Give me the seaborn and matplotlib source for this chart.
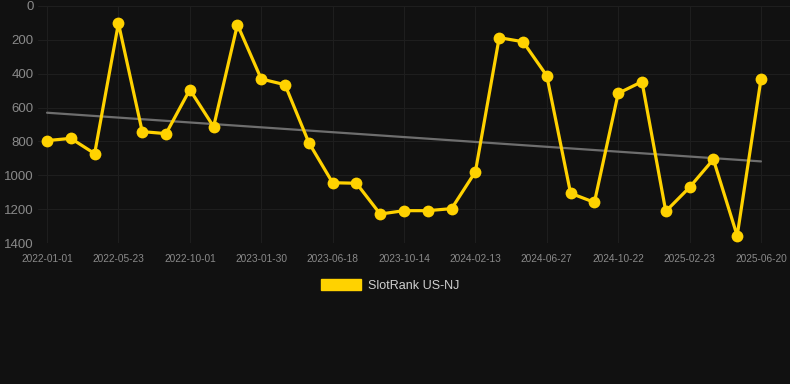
import numpy as np
import pandas as pd
import matplotlib
matplotlib.use("Agg")
import matplotlib.pyplot as plt
from matplotlib.patches import Patch
import seaborn as sns

# data (rank, lower is better)
dates = [
    "2022-01-01", "2022-02-17", "2022-04-05", "2022-05-23", "2022-07-05", "2022-08-18",
    "2022-10-01", "2022-11-10", "2022-12-20", "2023-01-30", "2023-03-16", "2023-05-02",
    "2023-06-18", "2023-07-27", "2023-09-05", "2023-10-14", "2023-11-23", "2024-01-03",
    "2024-02-13", "2024-03-29", "2024-05-13", "2024-06-27", "2024-08-04", "2024-09-13",
    "2024-10-22", "2024-12-03", "2025-01-13", "2025-02-23", "2025-04-02", "2025-05-11",
    "2025-06-20",
]
ranks = [
    795, 782, 872, 102, 742, 754, 494, 713, 110, 431, 465, 807, 1044, 1047, 1229, 1209,
    1209, 1197, 979, 187, 211, 412, 1106, 1160, 516, 447, 1213, 1071, 906, 1357, 433,
]
series_name = "SlotRank US-NJ"

df = pd.DataFrame({"date": dates, "rank": ranks})
df["idx"] = np.arange(len(df))

bg = "#111111"
gold = "#FFD200"
tick_col = "#8a8a8a"

sns.set_style("dark")
plt.rcParams["font.family"] = ["Liberation Sans", "DejaVu Sans"]

fig = plt.figure(figsize=(7.9, 3.84), dpi=100, facecolor=bg)
ax = fig.add_axes([38 / 790, (384 - 243) / 384, 752 / 790, 237 / 384])
ax.set_facecolor(bg)

# trend line (least squares over the points)
k, b = np.polyfit(df["idx"], df["rank"], 1)
df["trend"] = k * df["idx"] + b
sns.lineplot(data=df, x="idx", y="trend", ax=ax, color="#6e6e6e", linewidth=1.6)

sns.lineplot(data=df, x="idx", y="rank", ax=ax, color=gold, linewidth=2.3,
             marker="o", markersize=8.5, markeredgewidth=0, markeredgecolor=gold)

ax.set_xlim(-0.38, 31.22)
ax.set_ylim(1400, 0)
ax.set_yticks(range(0, 1401, 200))
ax.set_xticks(df["idx"][::3])
ax.set_xticklabels(df["date"][::3])
ax.tick_params(axis="y", colors=tick_col, labelsize=9.5, length=0, pad=3)
ax.tick_params(axis="x", colors=tick_col, labelsize=7.3, length=0, pad=8)
ax.grid(True, color="#1e1e1e", linewidth=0.8)
ax.set_xlabel("")
ax.set_ylabel("")
for s in ax.spines.values():
    s.set_visible(False)

fig.legend(handles=[Patch(facecolor=gold, edgecolor=gold, label=series_name)],
           loc="center", bbox_to_anchor=(390 / 790, 1 - 285.5 / 384), frameon=False,
           handlelength=3.2, handleheight=0.9, fontsize=9, labelcolor="#d0d0d0",
           handletextpad=0.6)

fig.savefig("out.png", dpi=100, facecolor=bg)
